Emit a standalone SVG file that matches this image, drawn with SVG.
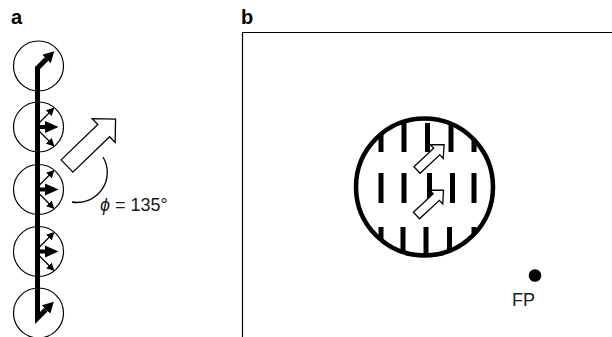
<svg xmlns="http://www.w3.org/2000/svg" width="612" height="337" viewBox="0 0 612 337">
<style>
.lbl{font-family:"Liberation Sans",Arial,sans-serif;font-weight:bold;font-size:20px;fill:#000}
.txt{font-family:"Liberation Sans",Arial,sans-serif;font-size:18px;fill:#1a1a1a}
.ring{fill:none;stroke:#000;stroke-width:1.2}
.heavy{fill:none;stroke:#000;stroke-width:5}
.thin{fill:none;stroke:#000;stroke-width:1.3}
.open{fill:#fff;stroke:#000;stroke-width:1.3;stroke-linejoin:miter}
.bar{fill:#000}
</style>
<defs>
<marker id="hb" markerUnits="userSpaceOnUse" markerWidth="12" markerHeight="12" refX="0" refY="6" orient="auto"><path d="M0,0 L11,6 L0,12 Z" fill="#000"/></marker>
<marker id="th" markerUnits="userSpaceOnUse" markerWidth="9" markerHeight="8" refX="1" refY="4" orient="auto"><path d="M0,0 L8,4 L0,8 Z" fill="#000"/></marker>
<clipPath id="cc"><circle cx="424.5" cy="187" r="68.5"/></clipPath>
</defs>

<g id="panel-a">
<text class="lbl" x="11" y="24">a</text>
<g id="circle1"><circle class="ring" cx="38.5" cy="66" r="25"/></g>
<g id="circle2"><circle class="ring" cx="38.5" cy="127" r="25"/></g>
<g id="circle3"><circle class="ring" cx="38.5" cy="189.5" r="25"/></g>
<g id="circle4"><circle class="ring" cx="38.5" cy="251.5" r="25"/></g>
<g id="circle5"><circle class="ring" cx="38.5" cy="313" r="25"/></g>
</g>

<g id="connectors">
<path class="heavy" d="M37.5,200 V68 L46.5,59" marker-end="url(#hb)"/>
<path class="heavy" d="M37.5,190 V318 L46,309.5" marker-end="url(#hb)"/>
<g id="triplet2">
<path d="M37.5,125 H45 V121 L58.5,127 L45,133 V129 H37.5 Z" fill="#000"/>
<path class="thin" d="M39,123 L49.5,112.5" marker-end="url(#th)"/>
<path class="thin" d="M39,131 L49.5,141.5" marker-end="url(#th)"/>
</g>
<g id="triplet3" transform="translate(0,62.5)">
<path d="M37.5,125 H45 V121 L58.5,127 L45,133 V129 H37.5 Z" fill="#000"/>
<path class="thin" d="M39,123 L49.5,112.5" marker-end="url(#th)"/>
<path class="thin" d="M39,131 L49.5,141.5" marker-end="url(#th)"/>
</g>
<g id="triplet4" transform="translate(0,124.5)">
<path d="M37.5,125 H45 V121 L58.5,127 L45,133 V129 H37.5 Z" fill="#000"/>
<path class="thin" d="M39,123 L49.5,112.5" marker-end="url(#th)"/>
<path class="thin" d="M39,131 L49.5,141.5" marker-end="url(#th)"/>
</g>
</g>

<g id="big-arrow">
<polygon class="open" transform="translate(67,166) rotate(-44)" points="0,-8.5 51,-8.5 51,-16.5 67.5,0 51,16.5 51,8.5 0,8.5"/>
<path class="thin" d="M103,157 A30,30 0 0 1 72,202"/>
<text class="txt" x="100" y="211"><tspan font-style="italic">ϕ</tspan> = 135°</text>
</g>

<g id="panel-b">
<text class="lbl" x="241" y="24">b</text>
<path d="M242.5,340 V32.5 H615" fill="none" stroke="#000" stroke-width="1.2"/>
<g id="grating">
<g clip-path="url(#cc)">
<rect class="bar" x="378.5" y="123" width="5" height="29"/>
<rect class="bar" x="401.5" y="123" width="5" height="29"/>
<rect class="bar" x="425" y="123" width="5" height="29"/>
<rect class="bar" x="448.5" y="123" width="5" height="29"/>
<rect class="bar" x="471.5" y="123" width="5" height="29"/>
<rect class="bar" x="378.5" y="173" width="5" height="30"/>
<rect class="bar" x="401.5" y="173" width="5" height="30"/>
<rect class="bar" x="427" y="173" width="5" height="30"/>
<rect class="bar" x="450" y="173" width="5" height="30"/>
<rect class="bar" x="471.5" y="173" width="5" height="30"/>
<rect class="bar" x="378.5" y="227" width="5" height="40"/>
<rect class="bar" x="400.5" y="227" width="5" height="40"/>
<rect class="bar" x="423.5" y="227" width="5" height="40"/>
<rect class="bar" x="447" y="227" width="5" height="40"/>
<rect class="bar" x="471.5" y="227" width="5" height="40"/>
</g>
<circle cx="424.5" cy="187" r="68.5" fill="none" stroke="#000" stroke-width="4.5"/>
<polygon class="open" transform="translate(417,170) rotate(-43)" points="0,-4.5 27,-4.5 27,-9.5 37,0 27,9.5 27,4.5 0,4.5"/>
<polygon class="open" transform="translate(416.5,215.5) rotate(-43)" points="0,-4.5 27,-4.5 27,-9.5 37,0 27,9.5 27,4.5 0,4.5"/>
</g>
<g id="fp">
<circle cx="535" cy="275.5" r="6.3" fill="#000"/>
<text class="txt" x="512" y="306">FP</text>
</g>
</g>
</svg>
